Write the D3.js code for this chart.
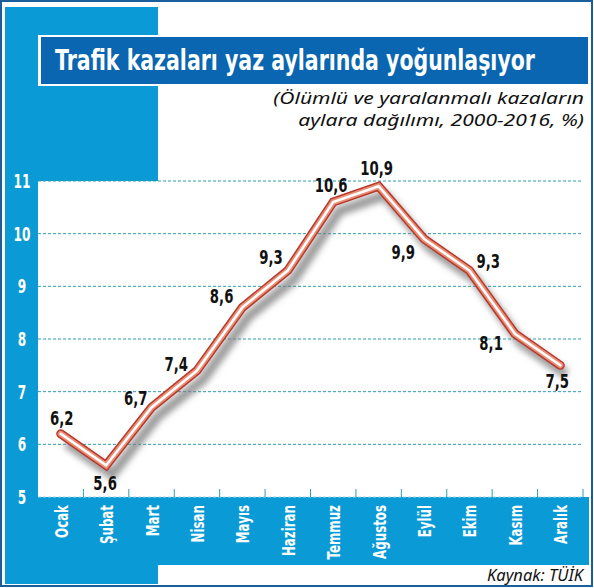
<!DOCTYPE html>
<html>
<head>
<meta charset="utf-8">
<script src="https://cdn.jsdelivr.net/npm/d3@7"></script>
<style>
  body { margin: 0; background: #fff; }
  svg { display: block; }
  .cond { font-family: "DejaVu Sans", "Liberation Sans", sans-serif; font-weight: bold; }
  .ital { font-family: "Noto Sans", "Open Sans", sans-serif; font-style: italic; }
</style>
</head>
<body>
<div id="graph"></div>
<script>
var months = ['Ocak', 'Şubat', 'Mart', 'Nisan', 'Mayıs', 'Haziran', 'Temmuz', 'Ağustos', 'Eylül', 'Ekim', 'Kasım', 'Aralık']
var values = [6.2, 5.6, 6.7, 7.4, 8.6, 9.3, 10.6, 10.9, 9.9, 9.3, 8.1, 7.5]
var yTicks = [5, 6, 7, 8, 9, 10, 11]
var title = 'Trafik kazaları yaz aylarında yoğunlaşıyor'
var subtitle = ['(Ölümlü ve yaralanmalı kazaların', 'aylara dağılımı, 2000-2016, %)']
var source = 'Kaynak: TÜİK'

// where each value label sits around its point: [anchor, dx, dy]
var labelPos = [
  ['middle', 1, -9], ['middle', -1, 25], ['end', -4, -2], ['end', -9, 0],
  ['end', -9, -4], ['end', -5, -7], ['middle', -2, -10], ['middle', -2, -11],
  ['end', -9, 20], ['start', 7, -3], ['end', -12, 16], ['middle', -3, 23]
]

var width = 594, height = 588
var svg = d3.select('#graph').append('svg').attr('width', width).attr('height', height)

var lightBlue = '#0a9ad6', darkBlue = '#0a66b0', border = '#1a5f9c'
var squeeze = 0.64  // no condensed face installed, so squash horizontally

// squash a text horizontally so it spans w pixels
function fitTo(sel, tx, ty, w) {
  var len = sel.node().getComputedTextLength()
  sel.attr('transform', `translate(${tx},${ty}) scale(${w / len},1)`)
}

svg.append('rect').attr('x', 1).attr('y', 1).attr('width', width - 3).attr('height', height - 3)
  .attr('fill', '#fff').attr('stroke', border).attr('stroke-width', 2)

var x = d3.scaleBand().domain(months).range([38, 583])
var y = d3.scaleLinear().domain([5, 11]).range([497, 181])

// blue L-shaped background
svg.append('rect').attr('x', 5).attr('y', 7).attr('width', 153).attr('height', 577).attr('fill', lightBlue)
svg.append('rect').attr('x', 5).attr('y', y(5)).attr('width', 584).attr('height', 565 - y(5)).attr('fill', lightBlue)
svg.append('rect').attr('x', x.range()[0]).attr('y', y(11)).attr('width', x.range()[1] - x.range()[0])
  .attr('height', y(5) - y(11)).attr('fill', '#fff')

// title bar
svg.append('rect').attr('x', 38).attr('y', 35).attr('width', 552).attr('height', 51).attr('fill', '#fff')
svg.append('rect').attr('x', 41).attr('y', 37).attr('width', 547).attr('height', 47).attr('fill', darkBlue)
svg.append('text').attr('class', 'cond')
  .attr('font-size', 29).attr('fill', '#fff')
  .text(title)
  .call(fitTo, 55, 70, 480)

svg.selectAll('.sub').data(subtitle).join('text').attr('class', 'sub ital')
  .attr('text-anchor', 'end').attr('font-size', 16).attr('fill', '#111')
  .text(d => d)
  .each(function(d, i) { fitTo(d3.select(this), 584, 104 + i * 22, i ? 286 : 311) })

// grid lines
svg.selectAll('.grid').data(yTicks).join('line').attr('class', 'grid')
  .attr('x1', x.range()[0]).attr('x2', x.range()[1])
  .attr('y1', d => y(d)).attr('y2', d => y(d))
  .attr('stroke', d => d === 5 ? '#9fd6ec' : '#2b9fb4').attr('stroke-width', 1)
  .attr('stroke-dasharray', '3,2')

// y labels
svg.selectAll('.ylab').data(yTicks).join('text').attr('class', 'ylab cond')
  .attr('transform', d => `translate(22,${y(d) + 7}) scale(${squeeze},1)`)
  .attr('text-anchor', 'middle').attr('font-size', 19).attr('fill', '#fff')
  .text(d => d)

// x ticks at band edges
svg.selectAll('.xtick').data(months).join('line').attr('class', 'xtick')
  .attr('x1', d => x(d) + x.bandwidth()).attr('x2', d => x(d) + x.bandwidth())
  .attr('y1', y(5) - 8).attr('y2', y(5))
  .attr('stroke', '#2b9fb4').attr('stroke-width', 1)

// month labels
svg.selectAll('.xlab').data(months).join('text').attr('class', 'xlab cond')
  .attr('transform', d => `translate(${x(d) + x.bandwidth() / 2 + 7},505) rotate(-90) scale(${squeeze},1)`)
  .attr('text-anchor', 'end').attr('font-size', 18.5).attr('fill', '#fff')
  .text(d => d)

// the line
var pts = values.map((v, i) => [x(months[i]) + x.bandwidth() / 2, y(v)])
var line = d3.line()

var defs = svg.append('defs')
defs.append('filter').attr('id', 'blur').attr('x', '-10%').attr('y', '-10%').attr('width', '120%').attr('height', '130%')
  .append('feGaussianBlur').attr('stdDeviation', 3)

svg.append('path').attr('d', line(pts)).attr('fill', 'none')
  .attr('stroke', '#7a7a7a').attr('stroke-width', 10).attr('stroke-opacity', 0.75)
  .attr('stroke-linejoin', 'miter').attr('filter', 'url(#blur)')
  .attr('transform', 'translate(6,9)')

;[[9, '#b8382a'], [6, '#e98f78'], [2.5, '#fff']].forEach(([w, c]) => {
  svg.append('path').attr('d', line(pts)).attr('fill', 'none')
    .attr('stroke', c).attr('stroke-width', w)
    .attr('stroke-linejoin', 'miter').attr('stroke-linecap', 'round')
})

// value labels
svg.selectAll('.vlab').data(values).join('text').attr('class', 'vlab cond')
  .attr('transform', (d, i) => `translate(${pts[i][0] + labelPos[i][1]},${pts[i][1] + labelPos[i][2]}) scale(0.7,1)`)
  .attr('text-anchor', (d, i) => labelPos[i][0])
  .attr('font-size', 19).attr('fill', '#111')
  .text(d => String(d).replace('.', ','))

svg.append('text').attr('class', 'ital').attr('x', 583).attr('y', 581)
  .attr('text-anchor', 'end').attr('font-size', 16.5).attr('fill', '#111')
  .text(source)
</script>
</body>
</html>
